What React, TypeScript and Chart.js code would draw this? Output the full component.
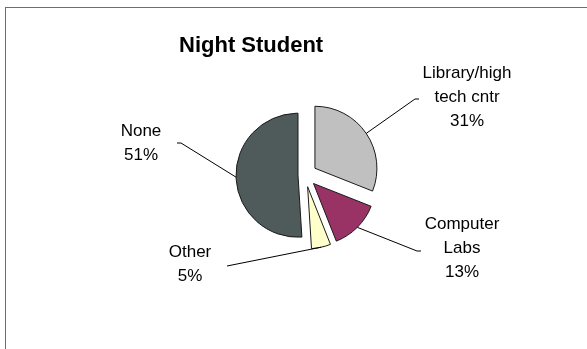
import React, { useEffect, useRef } from 'react';
import { Chart, registerables } from 'chart.js';

Chart.register(...registerables);

// ---- data ----
const title = 'Night Student';
const categories = ['Library/high tech cntr', 'Computer Labs', 'Other', 'None'];
const labelLines = [['Library/high', 'tech cntr'], ['Computer', 'Labs'], ['Other'], ['None']];
const values = [31, 13, 5, 51];
const colors = ['#C0C0C0', '#993366', '#FFFFCC', '#4F5A5A'];

// ---- layout / style (relative to the pie centre) ----
const explode = [12, 12, 12, 7];
const labelOffsets = [
  [162, -78],
  [157, 73],
  [-164, -32],
  [-115, 89],
];
// reorder to match categories: Library, Computer, Other, None
const labelOffsetByCat = [labelOffsets[0], labelOffsets[1], labelOffsets[3], labelOffsets[2]];
const tickByCat = [
  [110, -76, 114, -76],
  [112, 76, 116, 76],
  [-73, 90, -78, 91],
  [-124, -32, -128, -32],
];
const FONT = '"Liberation Sans", Arial, sans-serif';
const LABEL_SIZE = 17;
const LINE_GAP = 24;

const total = values.reduce((a, b) => a + b, 0);
const percentLabels = values.map((v) => Math.round((v / total) * 100) + '%');

const explodedPiePlugin = {
  id: 'explodedPie',
  beforeDatasetsDraw(chart: any) {
    const ctx = chart.ctx;
    const meta = chart.getDatasetMeta(0);
    meta.data.forEach((arc: any, i: number) => {
      const mid = (arc.startAngle + arc.endAngle) / 2;
      ctx.save();
      ctx.translate(Math.cos(mid) * explode[i], Math.sin(mid) * explode[i]);
      arc.draw(ctx, chart.chartArea);
      ctx.restore();
    });
    return false;
  },
  afterDraw(chart: any) {
    const ctx = chart.ctx;
    const meta = chart.getDatasetMeta(0);
    ctx.save();
    // title
    ctx.font = `bold 22px ${FONT}`;
    ctx.fillStyle = '#000';
    ctx.textAlign = 'left';
    ctx.textBaseline = 'alphabetic';
    ctx.fillText(title, 179, 52);

    ctx.font = `${LABEL_SIZE}px ${FONT}`;
    ctx.textAlign = 'center';
    ctx.textBaseline = 'middle';
    meta.data.forEach((arc: any, i: number) => {
      const cx = arc.x;
      const cy = arc.y;
      const r = arc.outerRadius;
      const mid = (arc.startAngle + arc.endAngle) / 2;
      const lines = [...labelLines[i], percentLabels[i]];
      const lx = cx + labelOffsetByCat[i][0];
      const ly = cy + labelOffsetByCat[i][1];
      const y0 = ly - ((lines.length - 1) * LINE_GAP) / 2;
      ctx.fillStyle = '#000';
      lines.forEach((t, k) => ctx.fillText(t, lx, y0 + k * LINE_GAP));

      // leader line
      const sx = cx + Math.cos(mid) * (explode[i] + r);
      const sy = cy + Math.sin(mid) * (explode[i] + r);
      const t = tickByCat[i];
      ctx.beginPath();
      ctx.strokeStyle = '#000';
      ctx.lineWidth = 1;
      ctx.moveTo(sx, sy);
      ctx.lineTo(cx + t[0], cy + t[1]);
      ctx.lineTo(cx + t[2], cy + t[3]);
      ctx.stroke();
    });
    ctx.restore();
  },
};

export default function App() {
  const ref = useRef<HTMLCanvasElement>(null);
  useEffect(() => {
    if (!ref.current) return;
    const chart = new Chart(ref.current, {
      type: 'pie',
      data: {
        labels: categories,
        datasets: [
          {
            data: values,
            backgroundColor: colors,
            borderColor: '#1a1a1a',
            borderWidth: 1,
            radius: 62,
          } as any,
        ],
      },
      options: {
        animation: false,
        responsive: false,
        devicePixelRatio: 1,
        layout: { padding: { left: 123, right: 100, top: 60, bottom: 59 } },
        plugins: {
          legend: { display: false },
          tooltip: { enabled: false },
          title: { display: false },
        },
      },
      plugins: [explodedPiePlugin],
    });
    return () => chart.destroy();
  }, []);

  return (
    <div
      style={{
        position: 'fixed',
        left: 0,
        top: 0,
        width: 587,
        height: 349,
        overflow: 'hidden',
        background: '#fff',
      }}
    >
      <canvas ref={ref} width={587} height={349} style={{ position: 'absolute', left: 0, top: 0 }} />
      <div
        style={{
          position: 'absolute',
          left: 5,
          top: 7,
          width: 640,
          height: 400,
          border: '1px solid #6e6e6e',
          pointerEvents: 'none',
        }}
      />
    </div>
  );
}
